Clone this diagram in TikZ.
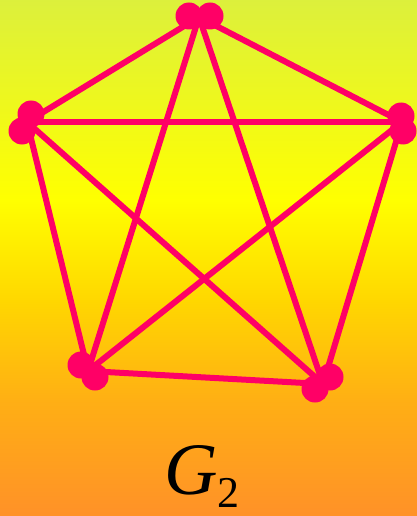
\documentclass[tikz,border=0pt]{standalone}
\usepackage{fontspec}
\setmainfont{Liberation Serif}
\definecolor{bgA}{RGB}{220,240,60}
\definecolor{bgB}{RGB}{255,255,0}
\definecolor{bgC}{RGB}{255,215,0}
\definecolor{bgD}{RGB}{255,175,20}
\definecolor{bgE}{RGB}{255,145,40}
\definecolor{edgecol}{RGB}{255,0,102}
\tikzset{
  edge/.style={draw=edgecol, line width=6pt},
  dot/.style={circle, fill=edgecol, inner sep=0pt, minimum size=27pt},
}
\begin{document}
\begin{tikzpicture}[x=1pt,y=-1pt]
\useasboundingbox (0,0) rectangle (417,516);
\shade[top color=bgA, bottom color=bgB] (0,-1) rectangle (417,201);
\shade[top color=bgB, bottom color=bgC] (0,200) rectangle (417,301);
\shade[top color=bgC, bottom color=bgD] (0,300) rectangle (417,401);
\shade[top color=bgD, bottom color=bgE] (0,400) rectangle (417,517);
% vertices (centre points)
\coordinate (T) at (199,17);
\coordinate (L) at (27,122);
\coordinate (R) at (402,122);
\coordinate (BL) at (88,371);
\coordinate (BR) at (323,384);
% edges (K5)
\draw[edge] (T) -- (L);
\draw[edge] (T) -- (R);
\draw[edge] (L) -- (BL);
\draw[edge] (R) -- (BR);
\draw[edge] (BL) -- (BR);
\draw[edge] (T) -- (BL);
\draw[edge] (T) -- (BR);
\draw[edge] (L) -- (R);
\draw[edge] (L) -- (BR);
\draw[edge] (R) -- (BL);
% double dots
\node[dot] (t1) at (189,16) {};
\node[dot] (t2) at (210,16) {};
\node[dot] (l1) at (31,114) {};
\node[dot] (l2) at (22,131) {};
\node[dot] (r1) at (401,116) {};
\node[dot] (r2) at (403,131) {};
\node[dot] (bl1) at (81,365) {};
\node[dot] (bl2) at (95,377) {};
\node[dot] (br1) at (330,377) {};
\node[dot] (br2) at (315,389) {};
% label
\node[anchor=base west, inner sep=0pt] (lab) at (164,494)
  {\fontsize{74}{74}\selectfont\itshape G\raisebox{-13pt}{\upshape\fontsize{44}{44}\selectfont 2}};
\end{tikzpicture}
\end{document}
